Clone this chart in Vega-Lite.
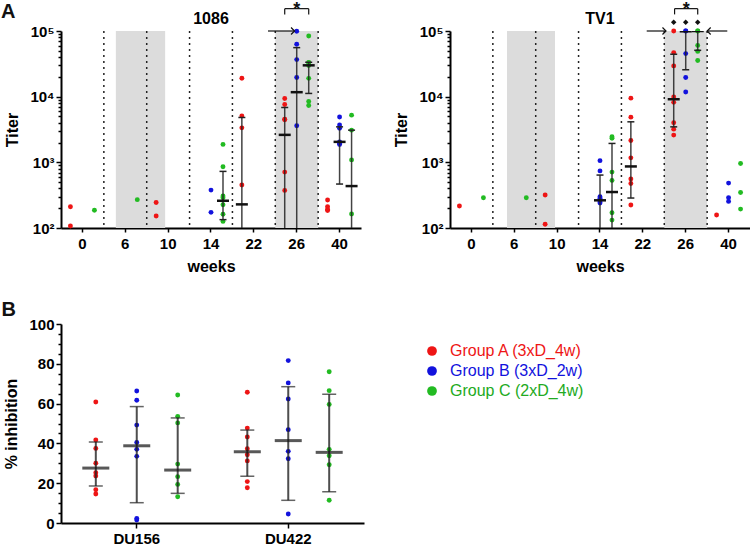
{
  "$schema": "https://vega.github.io/schema/vega-lite/v6.json",
  "padding": {"left": 1, "top": 1, "right": 0, "bottom": 0},
  "columns": 2,
  "bounds": "flush",
  "spacing": {"row": 96, "column": 86},
  "resolve": {"scale": {"color": "independent", "xOffset": "independent", "x": "independent", "y": "independent", "shape": "independent"}},
  "datasets": {
    "titer": [
      {"a":"1086","w":"0","g":"A","v":211},{"a":"1086","w":"0","g":"A","v":107},{"a":"1086","w":"0","g":"C","v":186},
      {"a":"1086","w":"6","g":"C","v":270},
      {"a":"1086","w":"10","g":"A","v":245},{"a":"1086","w":"10","g":"A","v":152},
      {"a":"1086","w":"14","g":"B","v":378},{"a":"1086","w":"14","g":"B","v":173},
      {"a":"1086","w":"14","g":"C","v":1875},{"a":"1086","w":"14","g":"C","v":855},{"a":"1086","w":"14","g":"C","v":307},{"a":"1086","w":"14","g":"C","v":289},{"a":"1086","w":"14","g":"C","v":226},{"a":"1086","w":"14","g":"C","v":162},{"a":"1086","w":"14","g":"C","v":126},
      {"a":"1086","w":"22","g":"A","v":19100},{"a":"1086","w":"22","g":"A","v":5090},{"a":"1086","w":"22","g":"A","v":3350},{"a":"1086","w":"22","g":"A","v":451},
      {"a":"1086","w":"26","g":"A","v":9380},{"a":"1086","w":"26","g":"A","v":7590},{"a":"1086","w":"26","g":"A","v":4540},{"a":"1086","w":"26","g":"A","v":4450},{"a":"1086","w":"26","g":"A","v":710},{"a":"1086","w":"26","g":"A","v":374},
      {"a":"1086","w":"26","g":"B","v":99000},{"a":"1086","w":"26","g":"B","v":62800},{"a":"1086","w":"26","g":"B","v":36700},{"a":"1086","w":"26","g":"B","v":19600},{"a":"1086","w":"26","g":"B","v":3600},
      {"a":"1086","w":"26","g":"C","v":84000},{"a":"1086","w":"26","g":"C","v":33100},{"a":"1086","w":"26","g":"C","v":32800},{"a":"1086","w":"26","g":"C","v":29800},{"a":"1086","w":"26","g":"C","v":19000},{"a":"1086","w":"26","g":"C","v":8430},{"a":"1086","w":"26","g":"C","v":7350},
      {"a":"1086","w":"40","g":"A","v":267},{"a":"1086","w":"40","g":"A","v":211},{"a":"1086","w":"40","g":"A","v":192},{"a":"1086","w":"40","g":"A","v":185},
      {"a":"1086","w":"40","g":"B","v":4900},{"a":"1086","w":"40","g":"B","v":3700},{"a":"1086","w":"40","g":"B","v":3300},{"a":"1086","w":"40","g":"B","v":2050},{"a":"1086","w":"40","g":"B","v":1950},{"a":"1086","w":"40","g":"B","v":1870},
      {"a":"1086","w":"40","g":"C","v":5230},{"a":"1086","w":"40","g":"C","v":3090},{"a":"1086","w":"40","g":"C","v":1090},{"a":"1086","w":"40","g":"C","v":163},
      {"a":"TV1","w":"0","g":"A","v":216},{"a":"TV1","w":"0","g":"C","v":289},
      {"a":"TV1","w":"6","g":"C","v":289},
      {"a":"TV1","w":"10","g":"A","v":318},{"a":"TV1","w":"10","g":"A","v":114},
      {"a":"TV1","w":"14","g":"B","v":1060},{"a":"TV1","w":"14","g":"B","v":740},{"a":"TV1","w":"14","g":"B","v":300},{"a":"TV1","w":"14","g":"B","v":285},{"a":"TV1","w":"14","g":"B","v":250},{"a":"TV1","w":"14","g":"B","v":240},
      {"a":"TV1","w":"14","g":"C","v":2450},{"a":"TV1","w":"14","g":"C","v":2330},{"a":"TV1","w":"14","g":"C","v":710},{"a":"TV1","w":"14","g":"C","v":531},{"a":"TV1","w":"14","g":"C","v":171},{"a":"TV1","w":"14","g":"C","v":132},
      {"a":"TV1","w":"22","g":"A","v":9490},{"a":"TV1","w":"22","g":"A","v":4880},{"a":"TV1","w":"22","g":"A","v":2150},{"a":"TV1","w":"22","g":"A","v":1170},{"a":"TV1","w":"22","g":"A","v":556},{"a":"TV1","w":"22","g":"A","v":477},{"a":"TV1","w":"22","g":"A","v":224},
      {"a":"TV1","w":"26","g":"A","v":100000},{"a":"TV1","w":"26","g":"A","v":46900},{"a":"TV1","w":"26","g":"A","v":29400},{"a":"TV1","w":"26","g":"A","v":9900},{"a":"TV1","w":"26","g":"A","v":8200},{"a":"TV1","w":"26","g":"A","v":4000},{"a":"TV1","w":"26","g":"A","v":3200},{"a":"TV1","w":"26","g":"A","v":2600},
      {"a":"TV1","w":"26","g":"B","v":100000},{"a":"TV1","w":"26","g":"B","v":100000},{"a":"TV1","w":"26","g":"B","v":45300},{"a":"TV1","w":"26","g":"B","v":19600},{"a":"TV1","w":"26","g":"B","v":11800},
      {"a":"TV1","w":"26","g":"C","v":100000},{"a":"TV1","w":"26","g":"C","v":100000},{"a":"TV1","w":"26","g":"C","v":60300},{"a":"TV1","w":"26","g":"C","v":48900},{"a":"TV1","w":"26","g":"C","v":35600},
      {"a":"TV1","w":"40","g":"A","v":158},
      {"a":"TV1","w":"40","g":"B","v":483},{"a":"TV1","w":"40","g":"B","v":289},{"a":"TV1","w":"40","g":"B","v":254},
      {"a":"TV1","w":"40","g":"C","v":961},{"a":"TV1","w":"40","g":"C","v":348},{"a":"TV1","w":"40","g":"C","v":194}
    ],
    "tstats": [
      {"a":"1086","w":"14","g":"C","mid":260,"lo":134,"hi":728},
      {"a":"1086","w":"22","g":"A","mid":229,"lo":50,"hi":4820},
      {"a":"1086","w":"26","g":"A","mid":2620,"lo":50,"hi":6840},
      {"a":"1086","w":"26","g":"B","mid":11700,"lo":50,"hi":55800},
      {"a":"1086","w":"26","g":"C","mid":30000,"lo":11200,"hi":33400},
      {"a":"1086","w":"40","g":"B","mid":2050,"lo":467,"hi":3470},
      {"a":"1086","w":"40","g":"C","mid":435,"lo":50,"hi":3090},
      {"a":"TV1","w":"14","g":"B","mid":264,"lo":50,"hi":640},
      {"a":"TV1","w":"14","g":"C","mid":353,"lo":50,"hi":1940},
      {"a":"TV1","w":"22","g":"A","mid":866,"lo":286,"hi":4140},
      {"a":"TV1","w":"26","g":"A","mid":9140,"lo":3470,"hi":44300},
      {"a":"TV1","w":"26","g":"B","mid":99000,"lo":25700,"hi":100000},
      {"a":"TV1","w":"26","g":"C","mid":100000,"lo":50800,"hi":100000}
    ],
    "shade": [
      {"a":"1086","x1":0.78,"x2":1.93},{"a":"1086","x1":4.5,"x2":5.5},
      {"a":"TV1","x1":0.83,"x2":1.95},{"a":"TV1","x1":4.5,"x2":5.5}
    ],
    "divider": [
      {"x":0.5},{"x":1.5},{"x":2.5},{"x":3.5},{"x":4.5},{"x":5.5}
    ],
    "segs": [
      {"a":"1086","x1":4.72,"x2":5.28,"y1":219000,"y2":219000},
      {"a":"1086","x1":4.72,"x2":4.72,"y1":179000,"y2":219000},
      {"a":"1086","x1":5.28,"x2":5.28,"y1":179000,"y2":219000},
      {"a":"1086","x1":4.33,"x2":4.95,"y1":100000,"y2":100000},
      {"a":"TV1","x1":4.74,"x2":5.28,"y1":219000,"y2":219000},
      {"a":"TV1","x1":4.74,"x2":4.74,"y1":179000,"y2":219000},
      {"a":"TV1","x1":5.28,"x2":5.28,"y1":179000,"y2":219000},
      {"a":"TV1","x1":4.09,"x2":4.54,"y1":100000,"y2":100000},
      {"a":"TV1","x1":5.5,"x2":5.97,"y1":100000,"y2":100000}
    ],
    "heads": [
      {"a":"1086","x":4.95,"y":100000,"dir":"r"},
      {"a":"TV1","x":4.54,"y":100000,"dir":"r"},
      {"a":"TV1","x":5.5,"y":100000,"dir":"l"}
    ],
    "diamonds": [
      {"a":"TV1","x":4.72,"y":136000},{"a":"TV1","x":5.0,"y":136000},{"a":"TV1","x":5.28,"y":136000}
    ],
    "stars": [
      {"a":"1086","x":5.0,"y":175000,"t":"*"},{"a":"TV1","x":5.01,"y":175000,"t":"*"}
    ],
    "letters": [
      {"a":"1086","x":-1.9,"y":156000,"t":"A"}
    ],
    "inhib": [
      {"s":"DU156","g":"A","v":60.8},{"s":"DU156","g":"A","v":41.7},{"s":"DU156","g":"A","v":37.5},{"s":"DU156","g":"A","v":30.0},{"s":"DU156","g":"A","v":25.3},{"s":"DU156","g":"A","v":23.6},{"s":"DU156","g":"A","v":16.7},{"s":"DU156","g":"A","v":14.6},
      {"s":"DU156","g":"B","v":66.3},{"s":"DU156","g":"B","v":61.7},{"s":"DU156","g":"B","v":49.2},{"s":"DU156","g":"B","v":40.5},{"s":"DU156","g":"B","v":37.0},{"s":"DU156","g":"B","v":33.5},{"s":"DU156","g":"B","v":2.3},{"s":"DU156","g":"B","v":1.5},
      {"s":"DU156","g":"C","v":64.3},{"s":"DU156","g":"C","v":53.6},{"s":"DU156","g":"C","v":50.3},{"s":"DU156","g":"C","v":29.6},{"s":"DU156","g":"C","v":23.3},{"s":"DU156","g":"C","v":19.4},{"s":"DU156","g":"C","v":13.2},
      {"s":"DU422","g":"A","v":65.7},{"s":"DU422","g":"A","v":47.7},{"s":"DU422","g":"A","v":43.2},{"s":"DU422","g":"A","v":37.3},{"s":"DU422","g":"A","v":34.3},{"s":"DU422","g":"A","v":31.2},{"s":"DU422","g":"A","v":20.8},{"s":"DU422","g":"A","v":17.7},
      {"s":"DU422","g":"B","v":81.6},{"s":"DU422","g":"B","v":70.4},{"s":"DU422","g":"B","v":62.3},{"s":"DU422","g":"B","v":46.9},{"s":"DU422","g":"B","v":36.0},{"s":"DU422","g":"B","v":32.3},{"s":"DU422","g":"B","v":4.5},
      {"s":"DU422","g":"C","v":76.0},{"s":"DU422","g":"C","v":66.5},{"s":"DU422","g":"C","v":59.6},{"s":"DU422","g":"C","v":37.0},{"s":"DU422","g":"C","v":33.8},{"s":"DU422","g":"C","v":29.3},{"s":"DU422","g":"C","v":11.4}
    ],
    "istats": [
      {"s":"DU156","g":"A","mid":27.6,"lo":18.6,"hi":40.7},
      {"s":"DU156","g":"B","mid":38.8,"lo":10.2,"hi":58.5},
      {"s":"DU156","g":"C","mid":26.6,"lo":14.9,"hi":52.8},
      {"s":"DU422","g":"A","mid":35.8,"lo":23.5,"hi":46.7},
      {"s":"DU422","g":"B","mid":41.4,"lo":11.4,"hi":68.5},
      {"s":"DU422","g":"C","mid":35.5,"lo":15.7,"hi":64.7}
    ],
    "bletter": [{"x":-0.393,"y":104,"t":"B"}]
  },
  "concat": [
    {
      "width": 300, "height": 197,
      "title": {"text": "1086", "offset": 4, "dy": 30},
      "resolve": {"scale": {"x": "independent", "y": "independent"}},
      "layer": [
        {"data": {"name": "shade"}, "transform": [{"filter": "datum.a == '1086'"}],
         "mark": {"type": "rect", "color": "#dcdcdc"},
         "encoding": {"x": {"field": "x1", "type": "quantitative", "scale": {"domain": [-0.5, 6.5], "nice": false, "zero": false}, "axis": null}, "x2": {"field": "x2"}}},
        {"data": {"name": "divider"},
         "mark": {"type": "rule", "color": "#222", "strokeWidth": 1.5, "strokeDash": [2, 4]},
         "encoding": {"x": {"field": "x", "type": "quantitative", "scale": {"domain": [-0.5, 6.5], "nice": false, "zero": false}, "axis": null}}},
        {"data": {"name": "titer"}, "transform": [{"filter": "datum.a == '1086'"}],
         "mark": {"type": "circle", "size": 24, "opacity": 1},
         "encoding": {
           "x": {"field": "w", "type": "ordinal", "scale": {"domain": ["0","6","10","14","22","26","40"], "paddingInner": 0, "paddingOuter": 0},
                 "axis": {"title": "weeks", "labelAngle": 0, "tickSize": 4, "labelPadding": 4, "titlePadding": 7}},
           "xOffset": {"field": "g", "scale": {"domain": ["A","B","C"], "paddingInner": 0, "paddingOuter": 0.286}},
           "y": {"field": "v", "type": "quantitative", "scale": {"type": "log", "domain": [100, 100000], "nice": false},
                 "axis": {"orient": "left", "title": "Titer", "values": [100, 1000, 10000, 100000],
                          "labelExpr": "datum.value == 100 ? '10²' : datum.value == 1000 ? '10³' : datum.value == 10000 ? '10⁴' : '10⁵'",
                          "tickSize": 5, "labelPadding": 2, "titlePadding": 9, "labelOverlap": false, "labelFlush": false}},
           "color": {"field": "g", "type": "nominal", "scale": {"domain": ["A","B","C"], "range": ["#ee1515","#1212dd","#22bb22"]}, "legend": null}
         }},
        {"data": {"name": "tstats"}, "transform": [{"filter": "datum.a == '1086'"}],
         "mark": {"type": "rule", "color": "#222", "strokeWidth": 1.5, "opacity": 0.85, "clip": true},
         "encoding": {
           "x": {"field": "w", "type": "ordinal", "scale": {"domain": ["0","6","10","14","22","26","40"], "paddingInner": 0, "paddingOuter": 0}, "axis": null},
           "xOffset": {"field": "g", "scale": {"domain": ["A","B","C"], "paddingInner": 0, "paddingOuter": 0.286}},
           "y": {"field": "lo", "type": "quantitative", "scale": {"type": "log", "domain": [100, 100000], "nice": false}, "axis": null},
           "y2": {"field": "hi"}}},
        {"data": {"name": "tstats"}, "transform": [{"filter": "datum.a == '1086'"}],
         "mark": {"type": "tick", "orient": "horizontal", "size": 7, "thickness": 1.5, "color": "#222", "opacity": 1, "clip": true},
         "encoding": {
           "x": {"field": "w", "type": "ordinal", "scale": {"domain": ["0","6","10","14","22","26","40"], "paddingInner": 0, "paddingOuter": 0}, "axis": null},
           "xOffset": {"field": "g", "scale": {"domain": ["A","B","C"], "paddingInner": 0, "paddingOuter": 0.286}},
           "y": {"field": "hi", "type": "quantitative", "scale": {"type": "log", "domain": [100, 100000], "nice": false},
                 "axis": {"orient": "left", "title": null, "labels": false, "domain": false, "tickSize": 3,
                          "values": [200,300,400,500,600,700,800,900,2000,3000,4000,5000,6000,7000,8000,9000,20000,30000,40000,50000,60000,70000,80000,90000]}}}},
        {"data": {"name": "tstats"}, "transform": [{"filter": "datum.a == '1086'"}],
         "mark": {"type": "tick", "orient": "horizontal", "size": 7, "thickness": 1.5, "color": "#222", "opacity": 1, "clip": true},
         "encoding": {
           "x": {"field": "w", "type": "ordinal", "scale": {"domain": ["0","6","10","14","22","26","40"], "paddingInner": 0, "paddingOuter": 0}, "axis": null},
           "xOffset": {"field": "g", "scale": {"domain": ["A","B","C"], "paddingInner": 0, "paddingOuter": 0.286}},
           "y": {"field": "lo", "type": "quantitative", "scale": {"type": "log", "domain": [100, 100000], "nice": false}, "axis": null}}},
        {"data": {"name": "tstats"}, "transform": [{"filter": "datum.a == '1086'"}],
         "mark": {"type": "tick", "orient": "horizontal", "size": 12, "thickness": 2.5, "color": "#111", "opacity": 1, "clip": true},
         "encoding": {
           "x": {"field": "w", "type": "ordinal", "scale": {"domain": ["0","6","10","14","22","26","40"], "paddingInner": 0, "paddingOuter": 0}, "axis": null},
           "xOffset": {"field": "g", "scale": {"domain": ["A","B","C"], "paddingInner": 0, "paddingOuter": 0.286}},
           "y": {"field": "mid", "type": "quantitative", "scale": {"type": "log", "domain": [100, 100000], "nice": false}, "axis": null}}},
        {"data": {"name": "segs"}, "transform": [{"filter": "datum.a == '1086'"}],
         "mark": {"type": "rule", "color": "#111", "strokeWidth": 1.2},
         "encoding": {
           "x": {"field": "x1", "type": "quantitative", "scale": {"domain": [-0.5, 6.5], "nice": false, "zero": false}, "axis": null}, "x2": {"field": "x2"},
           "y": {"field": "y1", "type": "quantitative", "scale": {"type": "log", "domain": [100, 100000], "nice": false}, "axis": null}, "y2": {"field": "y2"}}},
        {"data": {"name": "heads"}, "transform": [{"filter": "datum.a == '1086'"}],
         "mark": {"type": "point", "filled": false, "color": "#111", "strokeWidth": 1.2, "size": 50, "opacity": 1},
         "encoding": {
           "x": {"field": "x", "type": "quantitative", "scale": {"domain": [-0.5, 6.5], "nice": false, "zero": false}, "axis": null},
           "y": {"field": "y", "type": "quantitative", "scale": {"type": "log", "domain": [100, 100000], "nice": false}, "axis": null},
           "shape": {"field": "dir", "type": "nominal", "scale": {"domain": ["r","l"], "range": ["M-1,-1L0,0L-1,1", "M1,-1L0,0L1,1"]}, "legend": null}}},
        {"data": {"name": "stars"}, "transform": [{"filter": "datum.a == '1086'"}],
         "mark": {"type": "text", "fontSize": 18, "fontWeight": "bold", "baseline": "alphabetic", "align": "center", "color": "#111"},
         "encoding": {
           "x": {"field": "x", "type": "quantitative", "scale": {"domain": [-0.5, 6.5], "nice": false, "zero": false}, "axis": null},
           "y": {"field": "y", "type": "quantitative", "scale": {"type": "log", "domain": [100, 100000], "nice": false}, "axis": null},
           "text": {"field": "t"}}},
        {"data": {"name": "letters"},
         "mark": {"type": "text", "fontSize": 20, "fontWeight": "bold", "baseline": "alphabetic", "align": "left", "color": "#111"},
         "encoding": {
           "x": {"field": "x", "type": "quantitative", "scale": {"domain": [-0.5, 6.5], "nice": false, "zero": false}, "axis": null},
           "y": {"field": "y", "type": "quantitative", "scale": {"type": "log", "domain": [100, 100000], "nice": false}, "axis": null},
           "text": {"field": "t"}}}
      ]
    },
    {
      "width": 300, "height": 197,
      "title": {"text": "TV1", "offset": 4, "dy": 30},
      "resolve": {"scale": {"x": "independent", "y": "independent"}},
      "layer": [
        {"data": {"name": "shade"}, "transform": [{"filter": "datum.a == 'TV1'"}],
         "mark": {"type": "rect", "color": "#dcdcdc"},
         "encoding": {"x": {"field": "x1", "type": "quantitative", "scale": {"domain": [-0.5, 6.5], "nice": false, "zero": false}, "axis": null}, "x2": {"field": "x2"}}},
        {"data": {"name": "divider"},
         "mark": {"type": "rule", "color": "#222", "strokeWidth": 1.5, "strokeDash": [2, 4]},
         "encoding": {"x": {"field": "x", "type": "quantitative", "scale": {"domain": [-0.5, 6.5], "nice": false, "zero": false}, "axis": null}}},
        {"data": {"name": "titer"}, "transform": [{"filter": "datum.a == 'TV1'"}],
         "mark": {"type": "circle", "size": 24, "opacity": 1},
         "encoding": {
           "x": {"field": "w", "type": "ordinal", "scale": {"domain": ["0","6","10","14","22","26","40"], "paddingInner": 0, "paddingOuter": 0},
                 "axis": {"title": "weeks", "labelAngle": 0, "tickSize": 4, "labelPadding": 4, "titlePadding": 7}},
           "xOffset": {"field": "g", "scale": {"domain": ["A","B","C"], "paddingInner": 0, "paddingOuter": 0.286}},
           "y": {"field": "v", "type": "quantitative", "scale": {"type": "log", "domain": [100, 100000], "nice": false},
                 "axis": {"orient": "left", "title": "Titer", "values": [100, 1000, 10000, 100000],
                          "labelExpr": "datum.value == 100 ? '10²' : datum.value == 1000 ? '10³' : datum.value == 10000 ? '10⁴' : '10⁵'",
                          "tickSize": 5, "labelPadding": 2, "titlePadding": 9, "labelOverlap": false, "labelFlush": false}},
           "color": {"field": "g", "type": "nominal", "scale": {"domain": ["A","B","C"], "range": ["#ee1515","#1212dd","#22bb22"]}, "legend": null}
         }},
        {"data": {"name": "tstats"}, "transform": [{"filter": "datum.a == 'TV1'"}],
         "mark": {"type": "rule", "color": "#222", "strokeWidth": 1.5, "opacity": 0.85, "clip": true},
         "encoding": {
           "x": {"field": "w", "type": "ordinal", "scale": {"domain": ["0","6","10","14","22","26","40"], "paddingInner": 0, "paddingOuter": 0}, "axis": null},
           "xOffset": {"field": "g", "scale": {"domain": ["A","B","C"], "paddingInner": 0, "paddingOuter": 0.286}},
           "y": {"field": "lo", "type": "quantitative", "scale": {"type": "log", "domain": [100, 100000], "nice": false}, "axis": null},
           "y2": {"field": "hi"}}},
        {"data": {"name": "tstats"}, "transform": [{"filter": "datum.a == 'TV1'"}],
         "mark": {"type": "tick", "orient": "horizontal", "size": 7, "thickness": 1.5, "color": "#222", "opacity": 1, "clip": true},
         "encoding": {
           "x": {"field": "w", "type": "ordinal", "scale": {"domain": ["0","6","10","14","22","26","40"], "paddingInner": 0, "paddingOuter": 0}, "axis": null},
           "xOffset": {"field": "g", "scale": {"domain": ["A","B","C"], "paddingInner": 0, "paddingOuter": 0.286}},
           "y": {"field": "hi", "type": "quantitative", "scale": {"type": "log", "domain": [100, 100000], "nice": false},
                 "axis": {"orient": "left", "title": null, "labels": false, "domain": false, "tickSize": 3,
                          "values": [200,300,400,500,600,700,800,900,2000,3000,4000,5000,6000,7000,8000,9000,20000,30000,40000,50000,60000,70000,80000,90000]}}}},
        {"data": {"name": "tstats"}, "transform": [{"filter": "datum.a == 'TV1'"}],
         "mark": {"type": "tick", "orient": "horizontal", "size": 7, "thickness": 1.5, "color": "#222", "opacity": 1, "clip": true},
         "encoding": {
           "x": {"field": "w", "type": "ordinal", "scale": {"domain": ["0","6","10","14","22","26","40"], "paddingInner": 0, "paddingOuter": 0}, "axis": null},
           "xOffset": {"field": "g", "scale": {"domain": ["A","B","C"], "paddingInner": 0, "paddingOuter": 0.286}},
           "y": {"field": "lo", "type": "quantitative", "scale": {"type": "log", "domain": [100, 100000], "nice": false}, "axis": null}}},
        {"data": {"name": "tstats"}, "transform": [{"filter": "datum.a == 'TV1'"}],
         "mark": {"type": "tick", "orient": "horizontal", "size": 12, "thickness": 2.5, "color": "#111", "opacity": 1, "clip": true},
         "encoding": {
           "x": {"field": "w", "type": "ordinal", "scale": {"domain": ["0","6","10","14","22","26","40"], "paddingInner": 0, "paddingOuter": 0}, "axis": null},
           "xOffset": {"field": "g", "scale": {"domain": ["A","B","C"], "paddingInner": 0, "paddingOuter": 0.286}},
           "y": {"field": "mid", "type": "quantitative", "scale": {"type": "log", "domain": [100, 100000], "nice": false}, "axis": null}}},
        {"data": {"name": "segs"}, "transform": [{"filter": "datum.a == 'TV1'"}],
         "mark": {"type": "rule", "color": "#111", "strokeWidth": 1.2},
         "encoding": {
           "x": {"field": "x1", "type": "quantitative", "scale": {"domain": [-0.5, 6.5], "nice": false, "zero": false}, "axis": null}, "x2": {"field": "x2"},
           "y": {"field": "y1", "type": "quantitative", "scale": {"type": "log", "domain": [100, 100000], "nice": false}, "axis": null}, "y2": {"field": "y2"}}},
        {"data": {"name": "heads"}, "transform": [{"filter": "datum.a == 'TV1'"}],
         "mark": {"type": "point", "filled": false, "color": "#111", "strokeWidth": 1.2, "size": 50, "opacity": 1},
         "encoding": {
           "x": {"field": "x", "type": "quantitative", "scale": {"domain": [-0.5, 6.5], "nice": false, "zero": false}, "axis": null},
           "y": {"field": "y", "type": "quantitative", "scale": {"type": "log", "domain": [100, 100000], "nice": false}, "axis": null},
           "shape": {"field": "dir", "type": "nominal", "scale": {"domain": ["r","l"], "range": ["M-1,-1L0,0L-1,1", "M1,-1L0,0L1,1"]}, "legend": null}}},
        {"data": {"name": "diamonds"},
         "mark": {"type": "point", "shape": "diamond", "filled": true, "color": "#111", "size": 30, "opacity": 1},
         "encoding": {
           "x": {"field": "x", "type": "quantitative", "scale": {"domain": [-0.5, 6.5], "nice": false, "zero": false}, "axis": null},
           "y": {"field": "y", "type": "quantitative", "scale": {"type": "log", "domain": [100, 100000], "nice": false}, "axis": null}}},
        {"data": {"name": "stars"}, "transform": [{"filter": "datum.a == 'TV1'"}],
         "mark": {"type": "text", "fontSize": 18, "fontWeight": "bold", "baseline": "alphabetic", "align": "center", "color": "#111"},
         "encoding": {
           "x": {"field": "x", "type": "quantitative", "scale": {"domain": [-0.5, 6.5], "nice": false, "zero": false}, "axis": null},
           "y": {"field": "y", "type": "quantitative", "scale": {"type": "log", "domain": [100, 100000], "nice": false}, "axis": null},
           "text": {"field": "t"}}}
      ]
    },
    {
      "width": 303, "height": 199,
      "resolve": {"scale": {"x": "independent", "y": "independent"}},
      "layer": [
        {"data": {"name": "inhib"},
         "mark": {"type": "circle", "size": 24, "opacity": 1},
         "encoding": {
           "x": {"field": "s", "type": "nominal", "scale": {"domain": ["DU156","DU422"], "paddingInner": 0, "paddingOuter": 0},
                 "axis": {"title": null, "labelAngle": 0, "tickSize": 5, "labelPadding": 3}},
           "xOffset": {"field": "g", "scale": {"domain": ["A","B","C"], "paddingInner": 0, "paddingOuter": 0.35}},
           "y": {"field": "v", "type": "quantitative", "scale": {"domain": [0, 100], "nice": false},
                 "axis": {"orient": "left", "title": "% inhibition", "values": [0, 20, 40, 60, 80, 100],
                          "tickSize": 5, "labelPadding": 2, "titlePadding": 9, "labelOverlap": false, "labelFlush": false}},
           "color": {"field": "g", "type": "nominal", "scale": {"domain": ["A","B","C"], "range": ["#ee1515","#1212dd","#22bb22"]},
                     "legend": {"orient": "none", "legendX": 363, "legendY": 19, "title": null, "padding": 0,
                                "symbolType": "circle", "symbolSize": 95, "symbolStrokeWidth": 0, "symbolOpacity": 1,
                                "labelFontSize": 16, "labelFont": "Liberation Sans", "labelOffset": 10, "rowPadding": 4,
                                "labelExpr": "datum.label == 'A' ? 'Group A (3xD_4w)' : datum.label == 'B' ? 'Group B (3xD_2w)' : 'Group C (2xD_4w)'",
                                "labelColor": {"expr": "datum.value == 'A' ? '#ee1515' : datum.value == 'B' ? '#1212dd' : '#22aa22'"}}}
         }},
        {"data": {"name": "istats"},
         "mark": {"type": "rule", "color": "#222", "strokeWidth": 2, "opacity": 0.8},
         "encoding": {
           "x": {"field": "s", "type": "nominal", "scale": {"domain": ["DU156","DU422"], "paddingInner": 0, "paddingOuter": 0}, "axis": null},
           "xOffset": {"field": "g", "scale": {"domain": ["A","B","C"], "paddingInner": 0, "paddingOuter": 0.35}},
           "y": {"field": "lo", "type": "quantitative", "scale": {"domain": [0, 100], "nice": false}, "axis": null},
           "y2": {"field": "hi"}}},
        {"data": {"name": "istats"},
         "mark": {"type": "tick", "orient": "horizontal", "size": 14, "thickness": 1.5, "color": "#222"},
         "encoding": {
           "x": {"field": "s", "type": "nominal", "scale": {"domain": ["DU156","DU422"], "paddingInner": 0, "paddingOuter": 0}, "axis": null},
           "xOffset": {"field": "g", "scale": {"domain": ["A","B","C"], "paddingInner": 0, "paddingOuter": 0.35}},
           "y": {"field": "hi", "type": "quantitative", "scale": {"domain": [0, 100], "nice": false},
                 "axis": {"orient": "left", "title": null, "labels": false, "domain": false, "tickSize": 3,
                          "values": [5,10,15,25,30,35,45,50,55,65,70,75,85,90,95]}}}},
        {"data": {"name": "istats"},
         "mark": {"type": "tick", "orient": "horizontal", "size": 14, "thickness": 1.5, "color": "#222"},
         "encoding": {
           "x": {"field": "s", "type": "nominal", "scale": {"domain": ["DU156","DU422"], "paddingInner": 0, "paddingOuter": 0}, "axis": null},
           "xOffset": {"field": "g", "scale": {"domain": ["A","B","C"], "paddingInner": 0, "paddingOuter": 0.35}},
           "y": {"field": "lo", "type": "quantitative", "scale": {"domain": [0, 100], "nice": false}, "axis": null}}},
        {"data": {"name": "istats"},
         "mark": {"type": "tick", "orient": "horizontal", "size": 27, "thickness": 3, "color": "#111"},
         "encoding": {
           "x": {"field": "s", "type": "nominal", "scale": {"domain": ["DU156","DU422"], "paddingInner": 0, "paddingOuter": 0}, "axis": null},
           "xOffset": {"field": "g", "scale": {"domain": ["A","B","C"], "paddingInner": 0, "paddingOuter": 0.35}},
           "y": {"field": "mid", "type": "quantitative", "scale": {"domain": [0, 100], "nice": false}, "axis": null}}},
        {"data": {"name": "bletter"},
         "mark": {"type": "text", "fontSize": 20, "fontWeight": "bold", "baseline": "alphabetic", "align": "left", "color": "#111"},
         "encoding": {
           "x": {"field": "x", "type": "quantitative", "scale": {"domain": [0, 2], "nice": false, "zero": false}, "axis": null},
           "y": {"field": "y", "type": "quantitative", "scale": {"domain": [0, 100], "nice": false}, "axis": null},
           "text": {"field": "t"}}}
      ]
    }
  ],
  "config": {
    "font": "Liberation Sans",
    "view": {"stroke": null},
    "axis": {"grid": false, "domainColor": "#000", "domainWidth": 2, "tickColor": "#000", "tickWidth": 1.5,
             "labelColor": "#000", "labelFont": "Liberation Sans", "labelFontWeight": "bold", "labelFontSize": 15,
             "titleFont": "Liberation Sans", "titleFontWeight": "bold", "titleFontSize": 16, "titleColor": "#000"},
    "title": {"font": "Liberation Sans", "fontSize": 16, "fontWeight": "bold", "color": "#000"}
  }
}
